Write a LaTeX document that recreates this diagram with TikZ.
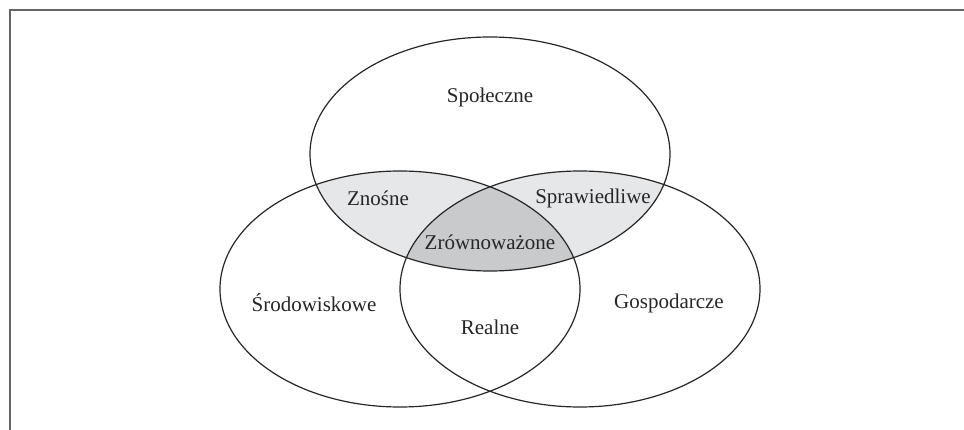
\documentclass[tikz,border=0pt]{standalone}
\usepackage{fontspec}
\setmainfont{Liberation Serif}
\usepackage{tikz}
\usetikzlibrary{positioning}
\definecolor{pairgray}{HTML}{E6E7E9}
\definecolor{coregray}{HTML}{C9CACC}
\definecolor{framegray}{HTML}{666666}
\tikzstyle{setline} = [
draw=black!85,
line width=1.2pt
]
\tikzstyle{setlabel} = [
font=\fontsize{21}{25}\selectfont,
text=black!85,
inner sep=0pt
]
\tikzstyle{frameline} = [
draw=framegray,
line width=2pt
]

\begin{document}
\begin{tikzpicture}[x=1pt,y=-1pt]
					\useasboundingbox (0,0) rectangle (964,430);
					%Frame
					\coordinate (fbl) at (10,432);
					\coordinate (ftl) at (10,10);
					\coordinate (ftr) at (966,10);
					\draw[frameline] (fbl) -- (ftl) -- (ftr);
					%Centres
					\coordinate (soc) at (490,154);
					\coordinate (env) at (400,289);
					\coordinate (eco) at (580,289);
					%Shading
					\begin{scope}
						\clip (soc) ellipse (180 and 117);
						\fill[pairgray] (env) ellipse (180 and 118);
						\fill[pairgray] (eco) ellipse (180 and 118);
						\clip (env) ellipse (180 and 118);
						\fill[coregray] (eco) ellipse (180 and 118);
					\end{scope}
					%Sets
					\draw[setline] (soc) ellipse (180 and 117);
					\draw[setline] (env) ellipse (180 and 118);
					\draw[setline] (eco) ellipse (180 and 118);
					%Labels
					\node[setlabel] (spoleczne) at (490,97) {Społeczne};
					\node[setlabel] (znosne) at (378,198) {Znośne};
					\node[setlabel] (sprawiedliwe) at (593,198) {Sprawiedliwe};
					\node[setlabel] (zrownowazone) at (490,242) {Zrównoważone};
					\node[setlabel] (srodowiskowe) at (314,303) {Środowiskowe};
					\node[setlabel] (realne) at (490,327) {Realne};
					\node[setlabel] (gospodarcze) at (669,303) {Gospodarcze};
				\end{tikzpicture}
\end{document}
